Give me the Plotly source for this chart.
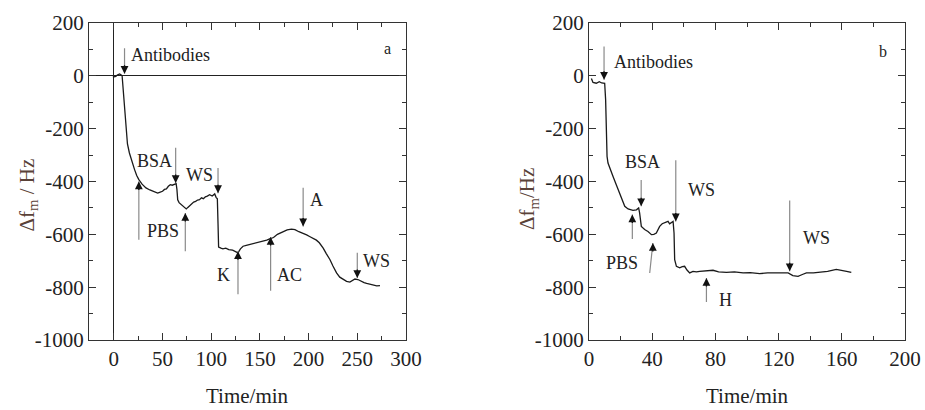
import plotly.graph_objects as go

# ---------------- data: panel a ----------------
time_a = [-1, 2, 4, 6, 8.5, 9.3, 10, 11, 12.7, 14, 16, 18.5, 21.3, 23.5, 25.7, 29, 33, 37, 40, 43, 45, 47,
          50, 52, 54, 56, 58, 60, 62, 64, 64.8, 65.6, 67, 69.3, 72, 74.4, 76, 78, 80, 82, 84, 86, 88, 90,
          92, 94, 96, 98.4, 101, 103.6, 105, 106.3, 107, 107.6, 110, 112, 115, 118, 122, 125, 127.5, 130,
          132.7, 136, 140, 144, 147, 150, 154, 157, 160, 164, 168, 171, 174, 178, 182.4, 186, 190, 194.4,
          198, 201, 204.7, 208, 211, 215, 218, 222, 225, 228.7, 232, 235.5, 239, 242.4, 245, 247.6, 250.6,
          254, 257, 259.6, 263, 266, 270, 273.3]
df_a = [-5, -2, 4, 7, 1, -40, -90, -128, -220, -258, -292, -325, -355, -377, -393, -410, -424, -432, -437,
        -440, -444, -441, -437, -430, -428, -418, -412, -414, -410, -408, -430, -469, -480, -488, -495, -504,
        -498, -490, -486, -478, -475, -470, -469, -462, -465, -458, -455, -450, -455, -447, -460, -465, -560,
        -648, -652, -655, -652, -658, -660, -665, -670, -655, -645, -642, -638, -636, -632, -630, -626, -622,
        -617, -612, -600, -594, -589, -583, -580, -582, -590, -595, -602, -608, -614, -622, -632, -652, -672,
        -696, -720, -746, -762, -771, -778, -781, -774, -769, -771, -778, -783, -786, -788, -792, -795, -794]

# ---------------- data: panel b ----------------
time_b = [1.5, 2.5, 4.6, 6.5, 8, 9.9, 10.5, 11, 11.4, 12, 13.5, 15.2, 17.3, 19.4, 21, 22.6, 24.7, 26, 27.8,
          30, 31.4, 32, 33.1, 35.2, 37.3, 39.5, 41, 42.6, 44.7, 46.3, 47.9, 50, 51, 52.2, 53.2, 53.8, 54.2,
          55.3, 57.4, 59, 60.5, 62, 63.7, 65.8, 68, 70, 74, 78.5, 82, 87, 92, 97.5, 102, 108, 113, 118.6,
          122, 126, 129, 132.3, 135, 137.6, 142, 146, 151, 156.5, 160.8, 163, 166]
df_b = [-10, -25, -28, -22, -27, -28, -91, -217, -305, -330, -356, -381, -413, -444, -470, -494, -504, -507,
        -509, -507, -500, -519, -570, -582, -589, -601, -600, -595, -570, -560, -555, -551, -560, -556, -551,
        -595, -696, -721, -727, -722, -721, -735, -746, -740, -742, -740, -738, -736, -742, -744, -742, -746,
        -745, -749, -746, -746, -748, -746, -756, -759, -752, -746, -746, -744, -740, -733, -736, -740, -744]

# ---------------- arrows (x, tail y, head y) ----------------
arrows_a_x = [11, 25.7, 63.5, 107, 73.4, 127.5, 161, 194.4, 250]
arrows_a_tail = [110, -626, -267, -343, -670, -832, -819, -418, -664]
arrows_a_head = [8, -400, -406, -444, -519, -664, -610, -570, -765]

arrows_b_tail_x = [9.5, 33, 27.4, 38.3, 54.9, 127, 74.3]
arrows_b_head_x = [9.5, 33, 27.4, 40.4, 54.9, 127, 74.3]
arrows_b_tail = [117, -389, -623, -752, -314, -466, -862]
arrows_b_head = [-15, -494, -525, -633, -551, -740, -765]

# ---------------- labels ----------------
labels_a = ["Antibodies", "BSA", "WS", "PBS", "K", "AC", "A", "WS"]
labels_a_x = [58, 42, 88, 51, 113, 180, 208, 270]
labels_a_y = [79, -324, -374, -589, -752, -752, -471, -702]

labels_b = ["Antibodies", "BSA", "WS", "PBS", "WS", "H"]
labels_b_x = [41, 34, 71, 21, 144, 86.5]
labels_b_y = [54, -326, -434, -708, -614, -849]

xticks_a = [0, 50, 100, 150, 200, 250, 300]
xticktext_a = ["0", "50", "100", "150", "200", "250", "300"]
xminor_a = [25, 75, 125, 175, 225, 275]
xticks_b = [0, 40, 80, 120, 160, 200]
xticktext_b = ["0", "40", "80", "120", "160", "200"]
xminor_b = [20, 60, 100, 140, 180]
yticks = [-1000, -800, -600, -400, -200, 0, 200]
yticktext = ["-1000", "-800", "-600", "-400", "-200", "0", "200"]
yminor = [-900, -700, -500, -300, -100, 100]

FONT = "Liberation Serif, Times New Roman, Times, serif"
INK = "#222222"
SHAFT = "#8a8a8a"

fig = go.Figure()
fig.add_trace(go.Scatter(x=time_a, y=df_a, mode="lines", line=dict(color="#1a1a1a", width=1.3),
                         xaxis="x", yaxis="y", hoverinfo="skip"))
fig.add_trace(go.Scatter(x=time_b, y=df_b, mode="lines", line=dict(color="#1a1a1a", width=1.3),
                         xaxis="x2", yaxis="y2", hoverinfo="skip"))

annotations = []


def add_arrow(xref, yref, xt, yt, xh, yh):
    # gray shaft
    annotations.append(dict(x=xh, y=yh, ax=xt, ay=yt, xref=xref, yref=yref, axref=xref, ayref=yref,
                            text="", showarrow=True, arrowhead=0, arrowwidth=1.2, arrowcolor=SHAFT))
    # black head (tail offset in screen pixels; negative ay = above)
    off = -10 if yh < yt else 10
    annotations.append(dict(x=xh, y=yh, ax=0, ay=off, xref=xref, yref=yref,
                            text="", showarrow=True, arrowhead=2, arrowsize=1.2, arrowwidth=1.3,
                            arrowcolor="#111111"))


for xa, t, h in zip(arrows_a_x, arrows_a_tail, arrows_a_head):
    add_arrow("x", "y", xa, t, xa, h)
for xt, xh, t, h in zip(arrows_b_tail_x, arrows_b_head_x, arrows_b_tail, arrows_b_head):
    add_arrow("x2", "y2", xt, t, xh, h)

for txt, xx, yy in zip(labels_a, labels_a_x, labels_a_y):
    annotations.append(dict(x=xx, y=yy, xref="x", yref="y", text=txt, showarrow=False,
                            font=dict(family=FONT, size=18, color=INK)))
for txt, xx, yy in zip(labels_b, labels_b_x, labels_b_y):
    annotations.append(dict(x=xx, y=yy, xref="x2", yref="y2", text=txt, showarrow=False,
                            font=dict(family=FONT, size=18, color=INK)))

annotations.append(dict(x=281, y=105, xref="x", yref="y", text="a", showarrow=False,
                        font=dict(family=FONT, size=16, color=INK)))
annotations.append(dict(x=186, y=92, xref="x2", yref="y2", text="b", showarrow=False,
                        font=dict(family=FONT, size=16, color=INK)))

TITLE_C = "#5a4238"
annotations.append(dict(x=0.2676, y=0.034, xref="paper", yref="paper", xanchor="center", yanchor="middle",
                        text="Time/min", showarrow=False, font=dict(family=FONT, size=21, color=INK)))
annotations.append(dict(x=0.8086, y=0.034, xref="paper", yref="paper", xanchor="center", yanchor="middle",
                        text="Time/min", showarrow=False, font=dict(family=FONT, size=21, color=INK)))
annotations.append(dict(x=0.030, y=0.525, xref="paper", yref="paper", xanchor="center", yanchor="middle",
                        text="Δf<sub>m</sub> / Hz", showarrow=False, textangle=-90,
                        font=dict(family=FONT, size=21, color=TITLE_C)))
annotations.append(dict(x=0.571, y=0.515, xref="paper", yref="paper", xanchor="center", yanchor="middle",
                        text="Δf<sub>m</sub>/Hz", showarrow=False, textangle=-90,
                        font=dict(family=FONT, size=21, color=TITLE_C)))

axis_common = dict(showline=True, mirror="ticks", linecolor="#333333", linewidth=1.2, ticks="inside",
                   ticklen=7, tickwidth=1, tickcolor="#333333", showgrid=False, automargin=False,
                   tickfont=dict(family=FONT, size=21, color=INK))


def minor(vals):
    return dict(tickvals=vals, ticks="inside", ticklen=4, tickwidth=1, tickcolor="#333333", showgrid=False)


fig.update_layout(
    width=925, height=410, margin=dict(l=0, r=0, t=0, b=0, autoexpand=False),
    paper_bgcolor="white", plot_bgcolor="white", showlegend=False,
    xaxis=dict(domain=[0.0962, 0.4389], range=[-25.5, 300], anchor="y", tickvals=xticks_a,
               ticktext=xticktext_a, minor=minor(xminor_a), zeroline=True, zerolinecolor="#222222",
               zerolinewidth=1.2, **axis_common),
    yaxis=dict(domain=[0.1707, 0.9439], range=[-1000, 200], anchor="x", tickvals=yticks,
               ticktext=yticktext, minor=minor(yminor), zeroline=True, zerolinecolor="#222222",
               zerolinewidth=1.2, **axis_common),
    xaxis2=dict(domain=[0.6368, 0.9784], range=[0, 200], anchor="y2", tickvals=xticks_b,
                ticktext=xticktext_b, minor=minor(xminor_b), zeroline=False, **axis_common),
    yaxis2=dict(domain=[0.1707, 0.9439], range=[-1000, 200], anchor="x2", tickvals=yticks,
                ticktext=yticktext, minor=minor(yminor), zeroline=False, **axis_common),
    annotations=annotations,
)

fig.write_html("out.html", config={"displayModeBar": False},
               post_script="document.body.style.margin='0';document.body.style.overflow='hidden';")
